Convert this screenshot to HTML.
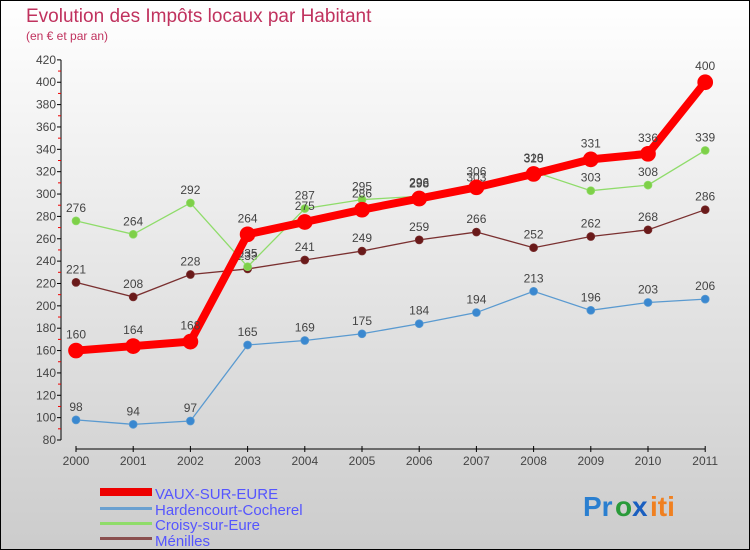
<!DOCTYPE html>
<html><head><meta charset="utf-8"><style>
body{margin:0}
#wrap{width:750px;height:550px;position:relative;box-sizing:border-box;border:1px solid #000;background:linear-gradient(#fff,#ccc);font-family:"Liberation Sans",sans-serif;overflow:hidden}
text{font-family:"Liberation Sans",sans-serif}
</style></head><body>
<div id="wrap">
<svg id="svg" width="750" height="550" style="position:absolute;left:-1px;top:-1px">
<text x="26" y="22" font-size="19" fill="#c0325e">Evolution des Impôts locaux par Habitant</text>
<text x="26" y="40" font-size="12" fill="#c0325e">(en € et par an)</text>
<g id="axes"></g><g id="series"></g>
<g>
<rect x="100" y="488" width="52" height="8" fill="#e00"/>
<text x="155" y="499" font-size="15" fill="#55f">VAUX-SUR-EURE</text>
<rect x="100" y="507" width="52" height="3" fill="#6aa0d0"/>
<text x="155" y="515" font-size="15" fill="#55f">Hardencourt-Cocherel</text>
<rect x="100" y="522" width="52" height="3" fill="#8fdc6a"/>
<text x="155" y="530" font-size="15" fill="#55f">Croisy-sur-Eure</text>
<rect x="100" y="537" width="52" height="3" fill="#8a5050"/>
<text x="155" y="546" font-size="15" fill="#55f">Ménilles</text>
</g>
<g font-size="28" font-weight="bold">
<text x="583" y="516" fill="#2a7fd0">Pr</text><text x="615" y="516" fill="#2a9a3a">o</text><text x="632" y="516" fill="#1a5fc0">x</text><text x="650" y="516" fill="#f08020">iti</text>
</g>
</svg>
</div>
<script>
const years=["2000","2001","2002","2003","2004","2005","2006","2007","2008","2009","2010","2011"];
const yTicks=[80,100,120,140,160,180,200,220,240,260,280,300,320,340,360,380,400,420];
const vaux=[160,164,168,264,275,286,296,306,318,331,336,400];
const hardencourt=[98,94,97,165,169,175,184,194,213,196,203,206];
const croisy=[276,264,292,235,287,295,298,303,320,303,308,339];
const menilles=[221,208,228,233,241,249,259,266,252,262,268,286];
const NS="http://www.w3.org/2000/svg";
const X=i=>76+i*57.2, Y=v=>440-(v-80)*1.118;
const ax=document.getElementById('axes'), sg=document.getElementById('series');
function mk(tag,at,par){const e=document.createElementNS(NS,tag);for(const k in at)e.setAttribute(k,at[k]);par.appendChild(e);return e;}
let a=mk('line',{x1:61,y1:Y(420),x2:61,y2:Y(80),stroke:'#000'},ax);


a=mk('line',{x1:X(0),y1:449,x2:X(11),y2:449,stroke:'#000'},ax);


yTicks.forEach((v,i)=>{mk('line',{x1:57,x2:61,y1:Y(v),y2:Y(v),stroke:'#000'},ax);
 if(i<yTicks.length-1)mk('line',{x1:58,x2:61,y1:Y(v+10),y2:Y(v+10),stroke:'#e00'},ax);
 const t=mk('text',{x:56,y:Y(v)+4,'font-size':12,'text-anchor':'end',fill:'#444'},ax);t.textContent=v;
 
 });
years.forEach((y,i)=>{mk('line',{x1:X(i),x2:X(i),y1:446,y2:452,stroke:'#000'},ax);
 const t=mk('text',{x:X(i),y:465,'font-size':12,'text-anchor':'middle',fill:'#444'},ax);t.textContent=y;
 
 });
function series(d,name,col,w,r,dot){
 const g=mk('g',{},sg);
 
 
 mk('polyline',{points:d.map((v,i)=>X(i)+','+Y(v)).join(' '),fill:'none',stroke:col,'stroke-width':w},g);
 d.forEach((v,i)=>{const c=mk('circle',{cx:X(i),cy:Y(v),r:r,fill:dot,stroke:col,'stroke-width':0.7},g);
  
  
  const t=mk('text',{x:X(i),y:Y(v)-9-(r>5?3:0),'font-size':12,'text-anchor':'middle',fill:'#444'},g);t.textContent=v;
  
  });
}
series(hardencourt,'hardencourt','#5a9ad0',1.3,4,'#3a88d0');
series(menilles,'menilles','#7a3030',1.3,4,'#6a1a1a');
series(croisy,'croisy','#8fdc6a',1.3,4,'#7ed048');
series(vaux,'vaux','#f00',8,7.5,'#f00');
</script>
</body></html>
